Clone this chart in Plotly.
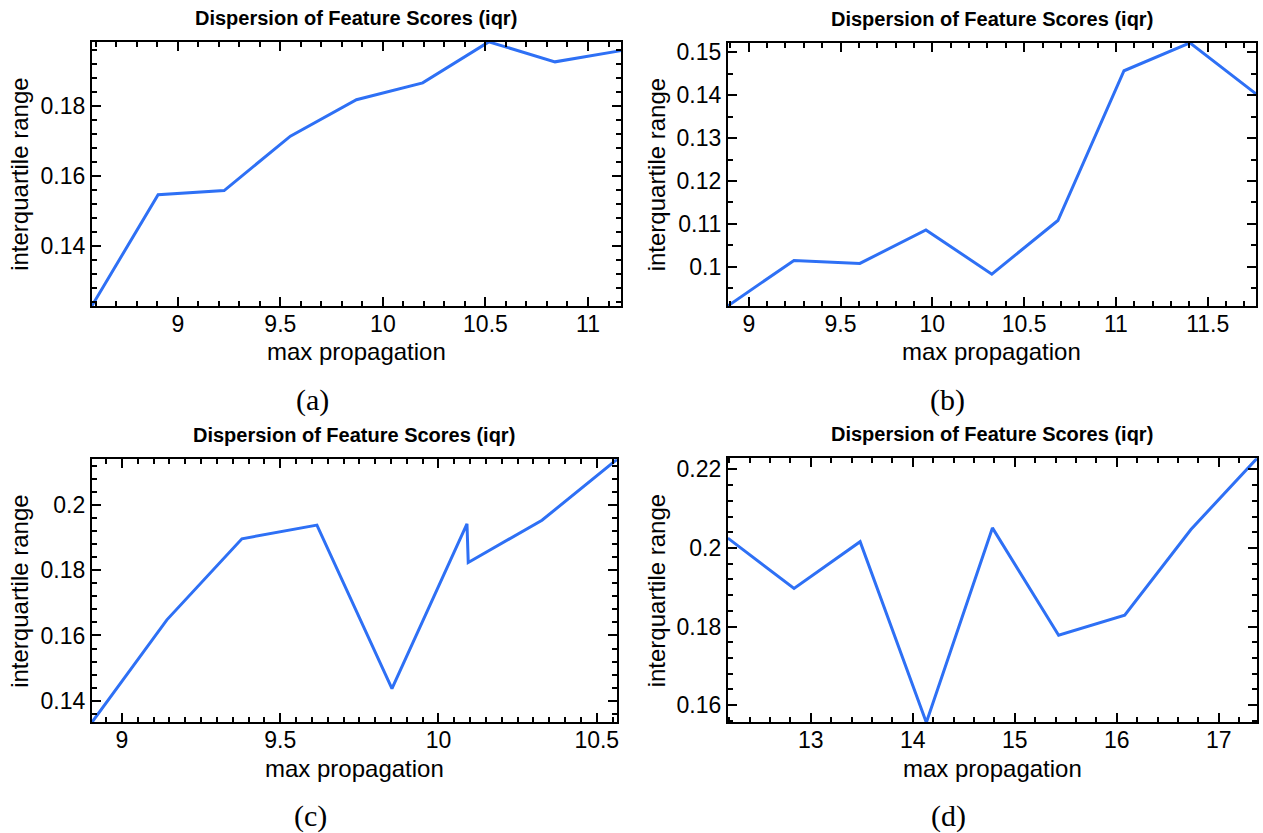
import plotly.graph_objects as go

# max propagation (x) and interquartile range (y) for the four runs
prop_a = [8.581, 8.904, 9.226, 9.549, 9.871, 10.194, 10.516, 10.839, 11.161]
iqr_a = [0.1229, 0.1546, 0.1558, 0.1713, 0.1817, 0.1865, 0.1982, 0.1925, 0.1957]

prop_b = [8.886, 9.246, 9.605, 9.965, 10.324, 10.684, 11.044, 11.403, 11.763]
iqr_b = [0.0909, 0.1015, 0.1008, 0.1086, 0.0983, 0.1108, 0.1457, 0.1522, 0.1403]

prop_c = [8.905, 9.142, 9.379, 9.616, 9.853, 10.090, 10.094, 10.327, 10.564]
iqr_c = [0.1333, 0.1648, 0.1897, 0.1939, 0.1437, 0.1943, 0.1824, 0.1954, 0.2141]

prop_d = [12.187, 12.836, 13.484, 14.133, 14.781, 15.430, 16.078, 16.727, 17.375]
iqr_d = [0.2025, 0.1897, 0.2016, 0.1556, 0.2051, 0.1778, 0.1829, 0.2047, 0.2228]

panel_labels = ["(a)", "(b)", "(c)", "(d)"]
title_text = "<b>Dispersion of Feature Scores (iqr)</b>"
x_title = "max propagation"
y_title = "interquartile range"

W, H = 1263, 833
LINE_BLUE = "rgb(46,112,245)"
SANS = "Liberation Sans, Arial, sans-serif"
SERIF = "Liberation Serif, DejaVu Serif, serif"

# pixel boxes of the four axes (left, right, top, bottom)
boxes = [(92, 622, 39, 304), (729, 1258, 40, 304),
         (92, 618, 458, 722), (729, 1259, 457, 722)]
# major/minor tick steps per panel: (x major, x minor, y major, y minor)
steps = [(0.5, 0.1, 0.02, 0.004), (0.5, 0.1, 0.01, 0.005),
         (0.5, 0.05, 0.02, 0.004), (1.0, 0.2, 0.02, 0.004)]
series = [(prop_a, iqr_a), (prop_b, iqr_b), (prop_c, iqr_c), (prop_d, iqr_d)]

fig = go.Figure()
annotations = []

for i, ((xs, ys), (l, r, t, b), (xd, xm, yd, ym), lab) in enumerate(
        zip(series, boxes, steps, panel_labels)):
    n = "" if i == 0 else str(i + 1)
    xref, yref = "x" + n, "y" + n
    fig.add_trace(go.Scatter(x=xs, y=ys, mode="lines",
                             line=dict(color=LINE_BLUE, width=3),
                             xaxis=xref, yaxis=yref, showlegend=False,
                             cliponaxis=False))
    common = dict(showline=True, linewidth=2, linecolor="black", mirror="ticks",
                  ticks="inside", ticklen=9, tickwidth=1.5, tickcolor="black",
                  showgrid=False, zeroline=False,
                  tickfont=dict(family=SANS, size=23, color="black"))
    fig.layout["xaxis" + n] = dict(
        common, domain=[l / W, r / W], anchor=yref, range=[min(xs), max(xs)],
        dtick=xd, tick0=0, ticklabelstandoff=-4,
        minor=dict(dtick=xm, tick0=0, ticks="inside", ticklen=5,
                   tickwidth=1.5, tickcolor="black"))
    fig.layout["yaxis" + n] = dict(
        common, domain=[1 - b / H, 1 - t / H], anchor=xref,
        range=[min(ys), max(ys)], dtick=yd, tick0=0,
        minor=dict(dtick=ym, tick0=0, ticks="inside", ticklen=5,
                   tickwidth=1.5, tickcolor="black"))

    cx = (l + r) / 2
    annotations += [
        dict(text=title_text, x=cx / W, y=1 - (t - 24) / H, xref="paper",
             yref="paper", showarrow=False, xanchor="center", yanchor="middle",
             font=dict(family=SANS, size=20, color="black")),
        dict(text=x_title, x=cx / W, y=1 - (b + 46) / H, xref="paper",
             yref="paper", showarrow=False, xanchor="center", yanchor="middle",
             font=dict(family=SANS, size=24, color="black")),
        dict(text=y_title, x=(l - 72) / W, y=1 - ((t + b) / 2) / H,
             xref="paper", yref="paper", showarrow=False, textangle=-90,
             xanchor="center", yanchor="middle",
             font=dict(family=SANS, size=24, color="black")),
        dict(text=lab, x=(cx - 44) / W, y=1 - (b + 94) / H, xref="paper",
             yref="paper", showarrow=False, xanchor="center", yanchor="middle",
             font=dict(family=SERIF, size=30, color="black")),
    ]

fig.update_layout(width=W, height=H, margin=dict(l=0, r=0, t=0, b=0),
                  paper_bgcolor="white", plot_bgcolor="white",
                  annotations=annotations)

fig.write_html("out.html")
